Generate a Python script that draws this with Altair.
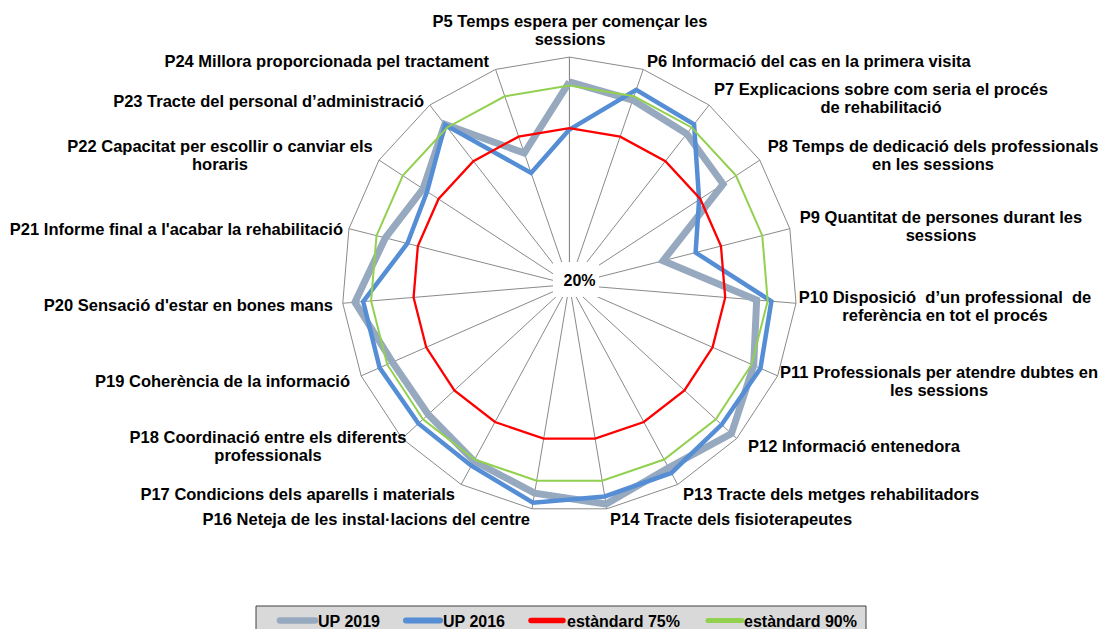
import altair as alt
import pandas as pd

# ---------------- data ----------------
categories = [
    "P5 Temps espera per començar les\nsessions",
    "P6 Informació del cas en la primera visita",
    "P7 Explicacions sobre com seria el procés\nde rehabilitació",
    "P8 Temps de dedicació dels professionals\nen les sessions",
    "P9 Quantitat de persones durant les\nsessions",
    "P10 Disposició\u00a0 d’un professional\u00a0 de\nreferència en tot el procés",
    "P11 Professionals per atendre dubtes en\nles sessions",
    "P12 Informació entenedora",
    "P13 Tracte dels metges rehabilitadors",
    "P14 Tracte dels fisioterapeutes",
    "P16 Neteja de les instal·lacions del centre",
    "P17 Condicions dels aparells i materials",
    "P18 Coordinació entre els diferents\nprofessionals",
    "P19 Coherència de la informació",
    "P20 Sensació d'estar en bones mans",
    "P21 Informe final a l'acabar la rehabilitació",
    "P22 Capacitat per escollir o canviar els\nhoraris",
    "P23 Tracte del personal d’administració",
    "P24 Millora proporcionada pel tractament",
]
up_2019 = [91.3, 88.6, 87.2, 84.6, 54.0, 86.1, 90.8, 97.5, 93.3, 98.3,
           94.4, 90.6, 87.5, 88.0, 95.7, 86.8, 81.5, 91.4, 68.9]
up_2016 = [74.5, 92.4, 91.4, 74.5, 65.8, 91.3, 93.4, 92.8, 95.4, 95.6,
           97.8, 92.5, 92.2, 92.9, 92.8, 78.8, 79.8, 91.2, 61.5]
std_75 = [75, 75, 75, 75, 75, 75, 75, 75, 75, 75,
          75, 75, 75, 75, 75, 75, 75, 75, 75]
std_90 = [90, 90, 90, 90, 90, 90, 90, 90, 90, 90,
          90, 90, 90, 90, 90, 90, 90, 90, 90]
series_names = ["UP 2019", "UP 2016", "estàndard 75%", "estàndard 90%"]
axis_min, axis_max = 20, 100
axis_min_label = "20%"

# ---------------- layout / style ----------------
W, H = 1091, 621
CXP, CYP = 569.4, 284.5          # page position of radar centre
R = 227.4                          # outer radius in px
N = len(categories)
CX, CY = CXP - 8, CYP - 8

xs = alt.Scale(domain=[-CX, W - CX], nice=False, zero=False)
ys = alt.Scale(domain=[CY - H, CY], nice=False, zero=False)


def dx(xp):
    return xp - CXP


def dy(yp):
    return CYP - yp


colors = ["#97A9BF", "#558ED5", "#FF0000", "#92D050"]
widths = [7, 4.5, 2.3, 2]
FONT = "Liberation Sans"

theta_expr = f"datum.idx * 2 * PI / {N}"
r_expr = f"(datum.value - {axis_min}) / ({axis_max} - {axis_min}) * {R}"


def polar(chart):
    return chart.transform_calculate(
        theta=theta_expr
    ).transform_calculate(
        rr=r_expr
    ).transform_calculate(
        x="datum.rr * sin(datum.theta)",
        y="datum.rr * cos(datum.theta)",
    )


def closed(values):
    return pd.DataFrame({"idx": list(range(N + 1)), "value": list(values) + [values[0]]})


X = lambda f="x": alt.X(f"{f}:Q", scale=xs, axis=None)
Y = lambda f="y": alt.Y(f"{f}:Q", scale=ys, axis=None)

# spokes
spoke_df = pd.DataFrame({"idx": list(range(N)), "value": [axis_max] * N, "zero": [0.0] * N})
spokes = polar(alt.Chart(spoke_df)).mark_rule(color="#8a8a8a", strokeWidth=1).encode(
    x=alt.X("zero:Q", scale=xs, axis=None),
    y=alt.Y("zero:Q", scale=ys, axis=None),
    x2="x:Q",
    y2="y:Q",
    strokeWidth=alt.condition("datum.idx == 0", alt.value(1.6), alt.value(1)),
    color=alt.condition("datum.idx == 0", alt.value("#7a7a7a"), alt.value("#8a8a8a")),
)

# outer polygon
outer = polar(alt.Chart(closed([axis_max] * N))).mark_line(
    color="#8a8a8a", strokeWidth=1
).encode(x=X(), y=Y(), order="idx:Q")

# centre label box
box_df = pd.DataFrame({"x1": [dx(553)], "x2": [dx(599)], "y1": [dy(262)], "y2": [dy(297)],
                       "tx": [dx(579.5)], "ty": [dy(281)], "t": [axis_min_label]})
centre_box = alt.Chart(box_df).mark_rect(color="white").encode(
    x=X("x1"), x2="x2:Q", y=Y("y1"), y2="y2:Q")
centre_txt = alt.Chart(box_df).mark_text(
    font=FONT, fontWeight="bold", fontSize=16, baseline="middle", align="center", color="black"
).encode(x=X("tx"), y=Y("ty"), text="t:N")

# series
series_layers = []
for name, vals, c, w in zip(series_names, [up_2019, up_2016, std_75, std_90], colors, widths):
    series_layers.append(
        polar(alt.Chart(closed(vals))).mark_line(
            color=c, strokeWidth=w, strokeJoin="miter", strokeMiterLimit=4
        ).encode(x=X(), y=Y(), order="idx:Q")
    )

# category labels (page layout)
lbl_x = [570, 647, 881, 933, 941, 945, 939, 748, 683, 610,
         530, 455, 268, 350, 333, 343, 220, 424, 489]
lbl_y = [27, 67, 95, 152, 223, 303, 378, 452, 500, 525,
         525, 500, 443, 387, 311, 235, 152, 107, 67]
lbl_al = ["center", "left", "center", "center", "center", "center", "center", "left", "left", "left",
          "right", "right", "center", "right", "right", "right", "center", "right", "right"]
lbl_df = pd.DataFrame({"label": categories,
                       "lx": [dx(v) for v in lbl_x],
                       "ly": [dy(v) for v in lbl_y],
                       "al": lbl_al})
label_layers = []
for al in ["left", "center", "right"]:
    label_layers.append(
        alt.Chart(lbl_df).transform_filter(f"datum.al == '{al}'").mark_text(
            font=FONT, fontWeight="bold", fontSize=16.5, align=al, baseline="alphabetic",
            lineBreak="\n", lineHeight=18, color="black"
        ).encode(x=X("lx"), y=Y("ly"), text="label:N")
    )

# legend
leg_box = pd.DataFrame({"x1": [dx(256)], "x2": [dx(866)], "y1": [dy(606)], "y2": [dy(650)]})
legend_box = alt.Chart(leg_box).mark_rect(fill="#D9D9D9", stroke="#404040", strokeWidth=1).encode(
    x=X("x1"), x2="x2:Q", y=Y("y1"), y2="y2:Q")
leg_x1 = [280, 406, 531, 708]
leg_x2 = [315, 440, 563, 742]
leg_tx = [318, 443, 567, 744]
leg_df = pd.DataFrame({
    "name": series_names,
    "x1": [dx(v) for v in leg_x1],
    "x2": [dx(v) for v in leg_x2],
    "tx": [dx(v) for v in leg_tx],
    "ly": [dy(620.5)] * 4,
    "ty": [dy(627)] * 4,
})
legend_lines = alt.Chart(leg_df).mark_rule(strokeCap="round").encode(
    x=X("x1"), x2="x2:Q", y=Y("ly"),
    color=alt.Color("name:N", scale=alt.Scale(domain=series_names, range=colors), legend=None),
    strokeWidth=alt.StrokeWidth("name:N", scale=alt.Scale(domain=series_names, range=[6.5, 5, 2.3, 2]),
                                legend=None),
)
legend_text = alt.Chart(leg_df).mark_text(
    font=FONT, fontWeight="bold", fontSize=16, align="left", baseline="alphabetic", color="black"
).encode(x=X("tx"), y=Y("ty"), text="name:N")

chart = alt.layer(
    spokes, outer, centre_box, centre_txt, *series_layers, *label_layers,
    legend_box, legend_lines, legend_text
).properties(
    width=W, height=H, padding=0, autosize=alt.AutoSizeParams(type="none")
).configure_view(stroke=None)

chart.save("out.html", embed_options={"renderer": "svg", "actions": False})
